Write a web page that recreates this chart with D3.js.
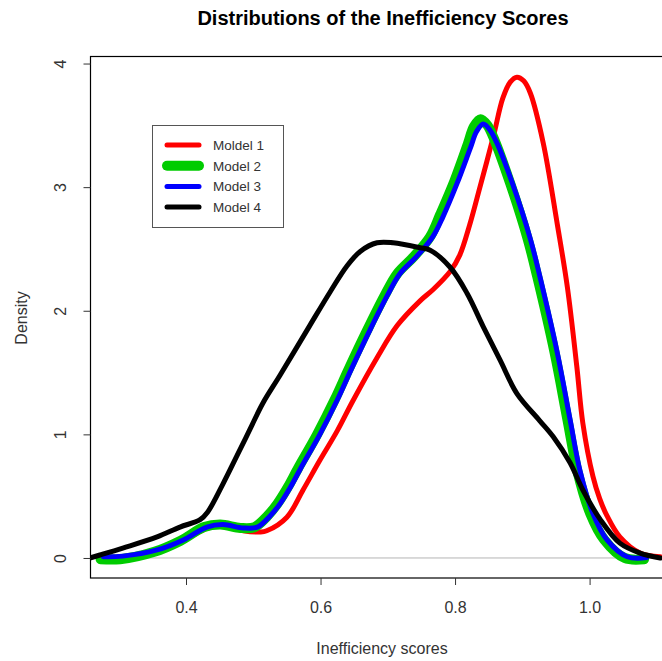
<!DOCTYPE html>
<html><head><meta charset="utf-8">
<script src="https://cdn.jsdelivr.net/npm/d3@7"></script>
<style>body{margin:0;background:#fff}svg{display:block}</style>
</head><body>
<script>
const title = "Distributions of the Inefficiency Scores";
const xTitle = "Inefficiency scores";
const yTitle = "Density";
const xTicks = [0.4, 0.6, 0.8, 1.0];
const yTicks = [0, 1, 2, 3, 4];
const seriesNames = ["Moldel 1", "Model 2", "Model 3", "Model 4"];
const seriesColors = ["#ff0000", "#00cc00", "#0000ff", "#000000"];
const seriesWidths = [5, 10, 5, 5];

const xModel1 = [0.277,0.306,0.357,0.396,0.431,0.455,0.485,0.510,0.520,0.550,0.574,0.599,0.625,0.648,0.684,0.714,0.748,0.767,0.793,0.807,0.822,0.837,0.857,0.871,0.882,0.892,0.902,0.912,0.931,0.952,0.967,0.981,0.990,1.005,1.015,1.026,1.045,1.075,1.105];
const yModel1 = [0.005,0.01,0.06,0.14,0.24,0.26,0.22,0.21,0.22,0.33,0.55,0.79,1.03,1.27,1.62,1.88,2.08,2.17,2.32,2.45,2.70,3.00,3.41,3.72,3.85,3.89,3.86,3.76,3.36,2.70,2.19,1.55,1.09,0.66,0.48,0.34,0.17,0.04,0.01];

const xModel2 = [0.273,0.302,0.353,0.392,0.427,0.451,0.481,0.502,0.521,0.536,0.551,0.566,0.595,0.621,0.642,0.670,0.695,0.714,0.739,0.763,0.778,0.799,0.819,0.828,0.838,0.848,0.858,0.882,0.908,0.922,0.948,0.967,0.982,1.001,1.022,1.052,1.081];
const yModel2 = [-0.01,-0.01,0.05,0.14,0.25,0.27,0.243,0.25,0.34,0.44,0.57,0.72,1.0,1.28,1.53,1.85,2.12,2.30,2.44,2.60,2.78,3.05,3.35,3.49,3.55,3.50,3.39,3.03,2.58,2.28,1.66,1.12,0.70,0.36,0.146,0.0,-0.01];

const xModel3 = [0.277,0.306,0.357,0.396,0.431,0.455,0.485,0.506,0.525,0.540,0.555,0.570,0.599,0.625,0.646,0.674,0.699,0.718,0.743,0.767,0.782,0.803,0.823,0.832,0.842,0.852,0.862,0.886,0.912,0.926,0.952,0.971,0.986,1.005,1.026,1.056,1.085];
const yModel3 = [0.01,0.015,0.065,0.146,0.25,0.27,0.243,0.25,0.34,0.44,0.57,0.72,1.0,1.28,1.53,1.85,2.12,2.30,2.44,2.60,2.76,3.03,3.32,3.45,3.51,3.46,3.36,3.02,2.58,2.28,1.66,1.12,0.70,0.36,0.146,0.01,0.003];

const xModel4 = [0.257,0.272,0.306,0.357,0.391,0.421,0.432,0.455,0.476,0.495,0.514,0.540,0.584,0.614,0.639,0.659,0.684,0.708,0.748,0.763,0.793,0.818,0.842,0.867,0.892,0.926,0.946,0.971,0.990,1.016,1.045,1.075,1.105];
const yModel4 = [0,0.024,0.08,0.17,0.25,0.31,0.37,0.60,0.83,1.04,1.25,1.48,1.88,2.15,2.36,2.48,2.55,2.55,2.51,2.49,2.35,2.14,1.87,1.60,1.33,1.11,0.98,0.77,0.55,0.31,0.12,0.04,0.0];

const xs = [xModel1, xModel2, xModel3, xModel4];
const ys = [yModel1, yModel2, yModel3, yModel4];

const W = 662, H = 661;
const L = 90.5, R = 675, T = 56.5, B = 578;
const svg = d3.select("body").append("svg").attr("width", W).attr("height", H)
  .style("font-family", "'Liberation Sans', Arial, sans-serif");

const x = d3.scaleLinear().domain([0.258, 1.127]).range([L, R]);
const y = d3.scaleLinear().domain([-0.162, 4.057]).range([B, T]);

svg.append("defs").append("clipPath").attr("id", "clip")
  .append("rect").attr("x", L).attr("y", T).attr("width", R - L).attr("height", B - T);

// zero line
svg.append("line").attr("x1", L).attr("x2", R).attr("y1", y(0)).attr("y2", y(0))
  .attr("stroke", "#b4b4b4").attr("stroke-width", 1);

const line = d3.line().x(d => x(d[0])).y(d => y(d[1])).curve(d3.curveCatmullRom.alpha(0.5));
const g = svg.append("g").attr("clip-path", "url(#clip)");
for (let i = 0; i < 4; i++) {
  const pts = xs[i].map((v, j) => [v, ys[i][j]]);
  g.append("path").datum(pts).attr("d", line).attr("fill", "none")
    .attr("stroke", seriesColors[i]).attr("stroke-width", seriesWidths[i])
    .attr("stroke-linejoin", "round").attr("stroke-linecap", "round");
}

// box
svg.append("rect").attr("x", L).attr("y", T).attr("width", R - L).attr("height", B - T)
  .attr("fill", "none").attr("stroke", "#000").attr("stroke-width", 1.2);

// x axis
const xa = svg.append("g").attr("transform", `translate(0,${B})`)
  .call(d3.axisBottom(x).tickValues(xTicks).tickFormat(d3.format(".1f")).tickSize(7).tickPadding(17));
xa.select(".domain").remove();
xa.selectAll("line").attr("stroke", "#333");
xa.selectAll("text").attr("font-size", 16).attr("fill", "#333").attr("font-family", "'Liberation Sans', Arial, sans-serif");

// y axis
const ya = svg.append("g").attr("transform", `translate(${L},0)`)
  .call(d3.axisLeft(y).tickValues(yTicks).tickFormat(d3.format("d")).tickSize(7).tickPadding(0));
ya.select(".domain").remove();
ya.selectAll("line").attr("stroke", "#333");
ya.selectAll("text").attr("font-size", 16).attr("fill", "#333")
  .attr("font-family", "'Liberation Sans', Arial, sans-serif")
  .attr("text-anchor", "middle").attr("x", 0)
  .attr("transform", "translate(-30,0) rotate(-90)").attr("dy", "0.35em");

// titles
svg.append("text").attr("x", 383).attr("y", 25).attr("text-anchor", "middle")
  .attr("font-size", 20).attr("font-weight", "bold").text(title);
svg.append("text").attr("x", 382).attr("y", 654).attr("text-anchor", "middle")
  .attr("font-size", 16).attr("fill", "#333").text(xTitle);
svg.append("text").attr("transform", "translate(27,318) rotate(-90)").attr("text-anchor", "middle")
  .attr("font-size", 16).attr("fill", "#333").text(yTitle);

// legend
const lg = svg.append("g");
lg.append("rect").attr("x", 152.5).attr("y", 125.5).attr("width", 131).attr("height", 102)
  .attr("fill", "#fff").attr("stroke", "#555").attr("stroke-width", 1);
seriesNames.forEach((n, i) => {
  const cy = 145 + i * 20.7;
  lg.append("line").attr("x1", 167).attr("x2", 199).attr("y1", cy).attr("y2", cy)
    .attr("stroke", seriesColors[i]).attr("stroke-width", seriesWidths[i]).attr("stroke-linecap", "round");
  lg.append("text").attr("x", 213).attr("y", cy).attr("dy", "0.36em")
    .attr("font-size", 13.5).attr("fill", "#333").text(n);
});
</script>
</body></html>
